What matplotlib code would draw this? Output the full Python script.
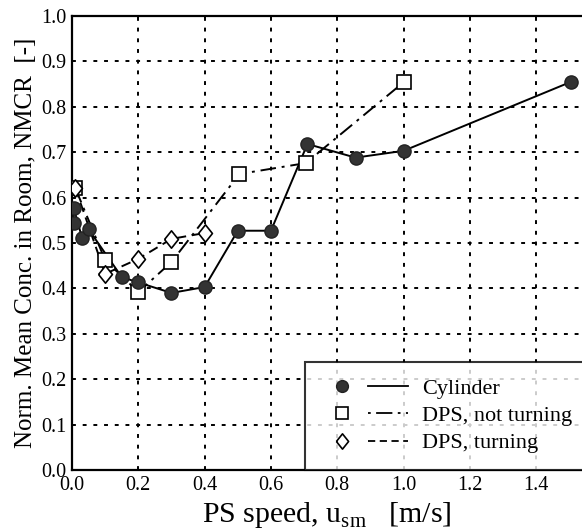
import matplotlib
matplotlib.use("Agg")
import matplotlib.pyplot as plt
from matplotlib.legend_handler import HandlerTuple

# values
cyl_x = [0.005, 0.005, 0.03, 0.05, 0.15, 0.2, 0.3, 0.4, 0.5, 0.6, 0.71, 0.855, 1.0, 1.505]
cyl_y = [0.545, 0.578, 0.512, 0.530, 0.425, 0.413, 0.390, 0.403, 0.527, 0.527, 0.718, 0.688, 0.703, 0.855]

dps_nt_x = [0.01, 0.1, 0.2, 0.3, 0.505, 0.705, 1.0]
dps_nt_y = [0.621, 0.462, 0.392, 0.458, 0.652, 0.676, 0.854]

dps_t_x = [0.01, 0.1, 0.2, 0.3, 0.4]
dps_t_y = [0.621, 0.432, 0.465, 0.509, 0.522]

xticks = [0.0, 0.2, 0.4, 0.6, 0.8, 1.0, 1.2, 1.4]
yticks = [0.0, 0.1, 0.2, 0.3, 0.4, 0.5, 0.6, 0.7, 0.8, 0.9, 1.0]

plt.rcParams['font.family'] = ['Liberation Serif', 'DejaVu Serif']

# tall diamond like the one in the scan
diamond = [(-0.8, 0), (0, 1), (0.8, 0), (0, -1), (-0.8, 0)]

fig = plt.figure(figsize=(5.82, 5.31), dpi=100)
ax = fig.add_axes([0.1237, 0.1149, 0.8763, 0.855])

ax.plot(cyl_x, cyl_y, color='black', lw=1.4, ls='-', zorder=3)
ax.plot(dps_nt_x, dps_nt_y, color='black', lw=1.4, ls=(0, (8, 3, 1.5, 3)), zorder=3)
ax.plot(dps_t_x, dps_t_y, color='black', lw=1.4, ls=(0, (5, 3)), zorder=3)

ax.plot(cyl_x, cyl_y, 'o', ms=9.5, mfc='#333333', mec='#222222', ls='none', zorder=5)
ax.plot(dps_nt_x, dps_nt_y, 's', ms=9.5, mfc='white', mec='black', mew=1.2, ls='none', zorder=4)
ax.plot(dps_t_x, dps_t_y, marker=diamond, ms=12.5, mfc='white', mec='black', mew=1.2, ls='none', zorder=4)

ax.set_xlim(0, 1.538)
ax.set_ylim(0, 1.0)
ax.set_xticks(xticks)
ax.set_yticks(yticks)
ax.set_xticklabels(["%.1f" % v for v in xticks], fontsize=14.5)
ax.set_yticklabels(["%.1f" % v for v in yticks], fontsize=14.5)
ax.tick_params(length=0, pad=4)

ax.grid(True, color='black', ls=(0, (2, 3.5)), lw=1.4)
ax.set_axisbelow(True)
for s in ['left', 'bottom', 'top']:
    ax.spines[s].set_linewidth(1.6)
ax.spines['right'].set_visible(False)

ax.set_xlabel(r"PS speed, u$_{\mathregular{sm}}$   [m/s]", fontsize=21.5)
ax.xaxis.set_label_coords(0.5, -0.066)
ax.set_ylabel("Norm. Mean Conc. in Room, NMCR  [-]", fontsize=18, labelpad=3)

# legend: marker, then a short line sample, then the label
mk1, = ax.plot([], [], 'o', ms=8.5, mfc='#333333', mec='#222222', ls='none')
mk2, = ax.plot([], [], 's', ms=8.5, mfc='white', mec='black', mew=1.2, ls='none')
mk3, = ax.plot([], [], marker=diamond, ms=11, mfc='white', mec='black', mew=1.2, ls='none')
ln1, = ax.plot([], [], color='black', lw=1.3, ls='-')
ln2, = ax.plot([], [], color='black', lw=1.3, ls=(0, (1.5, 3, 9, 3)))
ln3, = ax.plot([], [], color='black', lw=1.3, ls=(0, (4, 2.5)))

leg = ax.legend([(mk1, ln1), (mk2, ln2), (mk3, ln3)],
                ["Cylinder", "DPS, not turning", "DPS, turning"],
                handler_map={tuple: HandlerTuple(ndivide=None, pad=0.23)},
                loc='lower left', bbox_to_anchor=(0.457, 0.0, 0.6, 0.236),
                mode='expand', fontsize=16, frameon=True, fancybox=False,
                borderpad=0.75, handlelength=3.9, handletextpad=0.6,
                labelspacing=0.3, borderaxespad=0)
leg.get_frame().set_edgecolor('black')
leg.get_frame().set_linewidth(1.5)
leg.set_zorder(10)

fig.savefig("out.png", dpi=100)
